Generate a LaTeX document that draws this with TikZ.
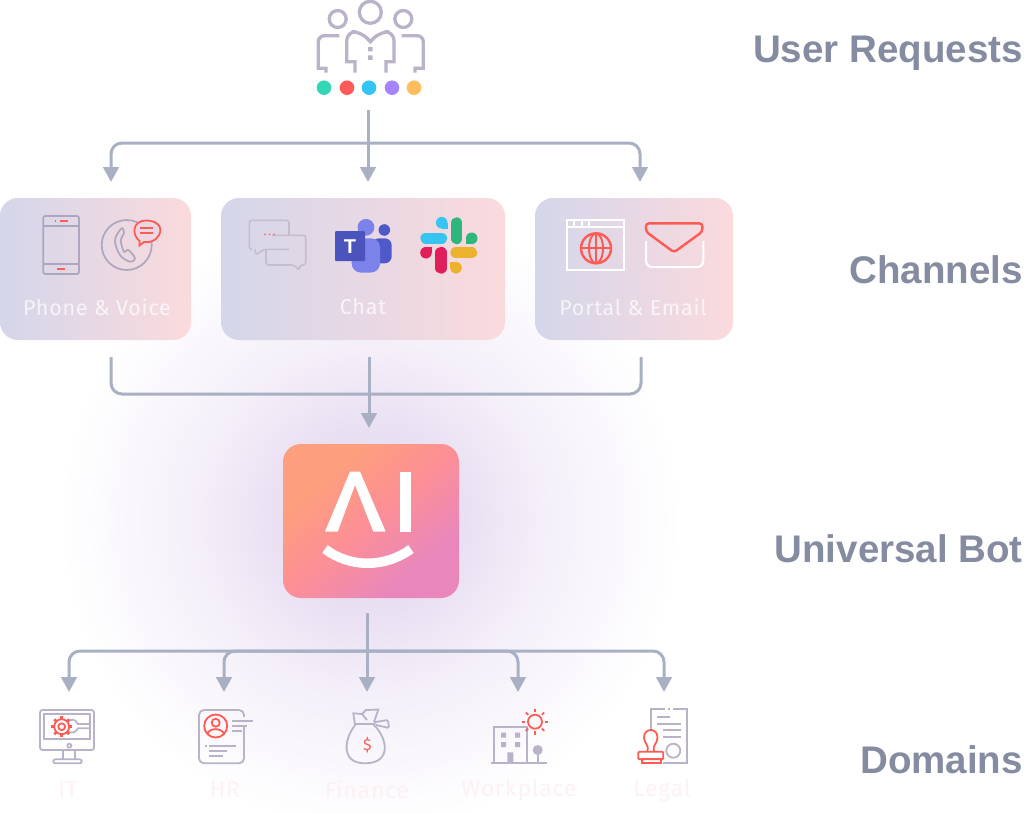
\documentclass[tikz,border=0pt]{standalone}
\usepackage{fontspec}
\setmainfont{Fira Sans}
\newfontfamily\cardfont[LetterSpace=3.5]{Fira Sans}
\newfontfamily\headfont{Liberation Sans}
\usepackage{tikz}
\usetikzlibrary{calc,positioning,arrows.meta}

\definecolor{linegray}{HTML}{A9B0C4}
\definecolor{headgray}{HTML}{858CA1}
\definecolor{icongray}{HTML}{B9B2C8}
\definecolor{cardgray}{HTML}{ACA7C0}
\definecolor{chatgray}{HTML}{C6BDCC}
\definecolor{iconred}{HTML}{FF5B52}
\definecolor{cardleft}{HTML}{D4D6EA}
\definecolor{cardright}{HTML}{FBDADD}
\definecolor{domtext}{HTML}{FDF1F4}
\definecolor{glowA}{HTML}{E8DFF2}
\definecolor{glowB}{HTML}{F4EFF9}
\definecolor{botA}{HTML}{FD9F7C}
\definecolor{botB}{HTML}{FC8F96}
\definecolor{botC}{HTML}{E987BC}
\definecolor{teamsA}{HTML}{4B53BC}
\definecolor{teamsB}{HTML}{7B83EB}
\definecolor{teamsC}{HTML}{5059C9}
\definecolor{slackA}{HTML}{36C5F0}
\definecolor{slackB}{HTML}{2EB67D}
\definecolor{slackC}{HTML}{E01E5A}
\definecolor{slackD}{HTML}{ECB22E}

\pgfdeclareradialshading{botglow}{\pgfpoint{0bp}{0bp}}{%
    color(0bp)=(glowA); color(7bp)=(glowA); color(14bp)=(glowB); color(25bp)=(white); color(50bp)=(white)}
\pgfdeclarehorizontalshading{botfill}{100bp}{%
    color(0bp)=(botA); color(30bp)=(botA); color(50bp)=(botB); color(70bp)=(botC); color(100bp)=(botC)}

\tikzset{
    >={Stealth[length=15pt,width=15.5pt,inset=0pt]},
    conn/.style={draw=linegray, line width=3pt, rounded corners=11pt},
    card/.style={
        rectangle,
        rounded corners=18pt,
        left color=cardleft,
        right color=cardright,
        minimum height=142pt,
        inner sep=0pt
    },
    cardlabel/.style={font=\fontsize{21.5}{24}\cardfont, text=white, opacity=.72},
    heading/.style={font=\fontsize{38.5}{42}\headfont\bfseries, text=headgray, anchor=base east, inner sep=0pt},
    domlabel/.style={font=\fontsize{23}{26}\cardfont, text=domtext},
    people/.style={draw=icongray, line width=3.3pt},
    dot/.style={circle, minimum size=14.6pt, inner sep=0pt},
    cardicon/.style={draw=cardgray, line width=1.7pt},
    chaticon/.style={draw=chatgray, line width=1.6pt, rounded corners=2.5pt},
    domicon/.style={draw=icongray, line width=1.8pt},
    redicon/.style={draw=iconred, line width=1.8pt},
    whiteicon/.style={draw=white, line width=2pt},
    pill/.style={line width=11.4pt, line cap=round}
}

\begin{document}
\begin{tikzpicture}[x=1pt,y=-1pt]
    \useasboundingbox (0,0) rectangle (1024,812);

    % halo round the bot
    \shade[shading=botglow] (370,520) circle[radius=310];

    % headings on the right
    \node[heading] (head users) at (1023,62.7) {User Requests};
    \node[heading] (head channels) at (1023,283) {Channels};
    \node[heading] (head bot) at (1023,562) {Universal Bot};
    \node[heading] (head domains) at (1023,773) {Domains};

    % users
    \draw[people] (370.3,12.3) circle[radius=11];
    \draw[people] (337.7,19) circle[radius=8.5];
    \draw[people] (403.3,19) circle[radius=8.5];
    \draw[people] (355,72.7) -- (355,61.7) -- (346.7,61.7) -- (346.7,50) [rounded corners=9pt] -- (346.7,31.7) -- (361,31.7) [sharp corners] -- (370.3,41.7) [rounded corners=9pt] -- (380,31.7) -- (394,31.7) -- (394,50) [sharp corners] -- (394,61.7) -- (386,61.7) -- (386,72.7);
    \draw[people] [rounded corners=6pt] (339.3,35.7) -- (318.3,35.7) -- (318.3,50) [sharp corners] -- (318.3,68.3) -- (326,68.3) -- (326,72.7);
    \draw[people] [rounded corners=6pt] (401.7,35.7) -- (423.3,35.7) -- (423.3,50) [sharp corners] -- (423.3,68.3) -- (415,68.3) -- (415,72.7);
    \fill[icongray] (368,47) rectangle (372.6,51.4) (368,55.4) rectangle (372.6,59.8);
    \node[dot, fill={rgb,255:red,51;green,214;blue,181}] (dot a) at (324,87.7) {};
    \node[dot, fill={rgb,255:red,255;green,90;blue,90}] (dot b) at (347,87.7) {};
    \node[dot, fill={rgb,255:red,51;green,197;blue,245}] (dot c) at (369,87.7) {};
    \node[dot, fill={rgb,255:red,165;green,133;blue,255}] (dot d) at (392,87.7) {};
    \node[dot, fill={rgb,255:red,255;green,189;blue,95}] (dot e) at (414,87.7) {};

    % channel cards
    \node[card, minimum width=191pt] (phone) at (95.5,269) {};
    \node[card, minimum width=284pt] (chat) at (363,269) {};
    \node[card, minimum width=198pt] (portal) at (634,269) {};
    \node[cardlabel] (phone label) at (97,307) {Phone \& Voice};
    \node[cardlabel] (chat label) at (363,307) {Chat};
    \node[cardlabel] (portal label) at (633,307) {Portal \& Email};

    % phone
    \draw[cardicon, rounded corners=2pt] (43.3,216) rectangle (79,274);
    \draw[cardicon] (43.3,226) -- (79,226) (43.3,264) -- (79,264);
    \draw[redicon] (60,221.3) -- (68,221.3) (57,269) -- (65,269) (54.7,221.3) -- (56,221.3);
    \draw[cardicon] (126.7,245) circle[radius=25];
    \draw[cardicon] plot[smooth cycle, tension=.6] coordinates {(121.7,228.3) (115,240) (120,255) (130,261.7) (135,258.3) (128.3,250) (124,251.7) (120.7,240) (124,233.3)};
    \draw[redicon, fill=cardleft!45!cardright] (139.5,241) .. controls (131,234) and (133,220.5) .. (146,220.5) .. controls (158,220.5) and (163,228) .. (159,235) .. controls (156,241) and (149,243) .. (144,242) -- (139.5,245.5) -- cycle;
    \draw[redicon] (140,228.3) -- (152.7,228.3) (140,233.3) -- (152.7,233.3);

    % chat bubbles
    \draw[chaticon] (252,249.3) -- (249.3,249.3) -- (249.3,220.3) -- (289,220.3) -- (289,235.3);
    \draw[chaticon] (289,249.3) -- (264,249.3) -- (256,255) -- (255,249.3);
    \draw[chaticon] (266,249.3) -- (266,265) -- (294,265) -- (299.3,270.3) -- (300,265) -- (305.7,265) -- (305.7,235.3) -- (272,235.3);
    \fill[iconred!80] (264,233.6) rectangle (266,235.2) (268.5,233.6) rectangle (270.5,235.2) (273,233.6) rectangle (275,235.2);

    % teams
    \fill[teamsC] (384.3,230) circle[radius=5.8];
    \fill[teamsC, rounded corners=7pt] (372,238.3) -- (391.7,238.3) -- (391.7,263.3) -- (372,263.3) -- cycle;
    \fill[teamsB] (366,227.3) circle[radius=8.4];
    \fill[teamsB, rounded corners=9pt] (351.7,238.3) -- (380,238.3) -- (380,272.5) -- (351.7,272.5) -- cycle;
    \node[fill=teamsA, minimum size=30pt, inner sep=0pt, rounded corners=1pt, text=white, font=\fontsize{20}{20}\headfont\bfseries] (teams) at (350,246.2) {T};

    % slack
    \draw[slackA, pill] (426,238.3) -- (441.5,238.3);
    \fill[slackA] (441.7,222.7) circle[radius=5.8];
    \fill[slackA] (441.7,222.7) rectangle (447.5,228.5);
    \draw[slackB, pill] (456.7,223) -- (456.7,238.5);
    \fill[slackB] (471.7,238.3) circle[radius=5.8];
    \fill[slackB] (465.9,238.3) rectangle (471.7,244.1);
    \draw[slackC, pill] (441,252.5) -- (441,268);
    \fill[slackC] (426,252.7) circle[radius=5.8];
    \fill[slackC] (426,246.9) rectangle (431.8,252.7);
    \draw[slackD, pill] (456,252.7) -- (471.5,252.7);
    \fill[slackD] (456,267.7) circle[radius=5.8];
    \fill[slackD] (450.2,261.9) rectangle (456,267.7);

    % browser and envelope
    \draw[whiteicon] (567.3,220) rectangle (624.3,270);
    \draw[whiteicon] (567.3,227.3) -- (624.3,227.3) (574.3,220) -- (574.3,227.3) (581.7,220) -- (581.7,227.3) (589,220) -- (589,227.3);
    \draw[redicon, line width=2.4pt] (596,248.3) circle[radius=15];
    \draw[redicon, line width=2pt] (596,248.3) ellipse[x radius=7, y radius=15];
    \draw[redicon, line width=2pt] (581,248.3) -- (611,248.3) (596,233.3) -- (596,263.3);
    \draw[redicon, line width=2.4pt, rounded corners=3pt] (646,223.3) -- (702.3,223.3) -- (702.3,231.7) -- (674,252.3) -- (646,231.7) -- cycle;
    \draw[whiteicon, rounded corners=6pt] (646,241) -- (646,267) -- (703.3,267) -- (703.3,241);

    % bot
    \node[rectangle, rounded corners=18pt, minimum width=176pt, minimum height=154pt, inner sep=0pt,
          shading=botfill, shading angle=-50] (bot) at (371,521) {};
    \fill[white] (325,531.7) -- (350,471.7) -- (360,471.7) -- (385.7,531.7) -- (373.3,531.7) -- (355,485) -- (337.7,531.7) -- cycle;
    \fill[white] (400.3,471.7) rectangle (411,531.7);
    \draw[white, line width=9.5pt] (325,549) .. controls (350,568) and (385,568) .. (411,549);

    % domain icons
    % IT
    \draw[domicon, rounded corners=2.5pt] (40,710) rectangle (94,750);
    \draw[domicon] (44,714) rectangle (90,739.3);
    \draw[domicon] (69.3,745.7) circle[radius=2];
    \draw[domicon] (62.7,750) -- (62.7,759.3) (75,750) -- (75,759.3);
    \draw[domicon, rounded corners=2pt] (53.3,759.3) rectangle (81.7,763.3);
    \draw[domicon] (90,724) -- (78,724) .. controls (75,718) and (70,719) .. (68,722) (90,728.3) -- (78,728.3) .. controls (75,734) and (70,733) .. (68,731);
    \foreach \a in {0,45,...,315}
        \draw[redicon, line width=2.6pt] (61.7,726.7) ++(\a:7.5) -- ++(\a:3);
    \draw[redicon] (61.7,726.7) circle[radius=7.5];
    \draw[redicon] (61.7,726.7) circle[radius=3.4];

    % HR
    \draw[domicon, rounded corners=5pt] (244,725) -- (244,763.3) -- (199,763.3) -- (199,710) -- (244,710) -- (244,717);
    \draw[redicon] (215.7,726) circle[radius=11.5];
    \draw[redicon] (215.7,722.7) circle[radius=4];
    \draw[redicon] (207.5,734) .. controls (209,727.5) and (222,727.5) .. (224,734);
    \draw[domicon] (232.3,720.7) -- (253.3,720.7) (232.3,725.7) -- (246.7,725.7) (232.3,730.7) -- (241.7,730.7);
    \draw[domicon] (205,745.7) -- (206.5,745.7) (209.3,745.7) -- (236,745.7) (209.3,750.7) -- (226.7,750.7) (209.3,756) -- (222.7,756);

    % Finance
    \draw[domicon] (356,724) .. controls (344,738) and (340,763.3) .. (365,763.3) .. controls (392,763.3) and (388,738) .. (373,724);
    \draw[domicon] (354,724) -- (374,724) -- (376,722) (355,725) -- (353.3,713.3) -- (362,714) -- (367,720);
    \draw[domicon] (362,714) -- (366,710) -- (378.3,709.5) -- (374,722);
    \draw[domicon, rounded corners=1.5pt] (375,722) -- (388,720) -- (389,728) -- (376,725);
    \node[text=iconred, font=\fontsize{16}{16}\selectfont, inner sep=0pt] (finance sign) at (367.3,745) {\$};

    % Workplace
    \draw[domicon] (494.3,763.3) -- (494.3,727.3) -- (526.7,727.3) -- (526.7,763.3);
    \draw[domicon] (491,763.3) -- (546.7,763.3);
    \fill[icongray] (501,732.5) rectangle (506,737.5) (515,732.5) rectangle (520,737.5) (501,742) rectangle (506,747) (515,742) rectangle (520,747) (507.3,752.3) rectangle (513.3,763.3);
    \fill[icongray] (537.7,750) circle[radius=5];
    \draw[domicon] (537.7,750) -- (537.7,763.3);
    \draw[redicon] (535,721.7) circle[radius=7];
    \foreach \a in {0,45,...,315}
        \draw[redicon] (535,721.7) ++(\a:9.7) -- ++(\a:3.3);

    % Legal
    \draw[domicon] (650.7,730) -- (650.7,709.3) -- (665,709.3) (668,709.3) -- (670,709.3) (673,709.3) -- (686.7,709.3) -- (686.7,763.3) -- (663.3,763.3);
    \draw[domicon] (656.7,716.7) -- (670,716.7) (656.7,724) -- (680.7,724) (663.3,730) -- (680.7,730) (663.3,736.7) -- (680.7,736.7);
    \draw[domicon] (673.3,750.7) circle[radius=7];
    \draw[redicon] (647,751.7) .. controls (650,745) and (644,744) .. (644,737.5) .. controls (644,727.5) and (657.5,727.5) .. (657.5,737.5) .. controls (657.5,744) and (651.5,745) .. (654.5,751.7);
    \draw[redicon, rounded corners=1pt] (638.3,751.7) rectangle (663.3,759.3);
    \draw[redicon] (642.3,759.3) rectangle (660.7,763.3);

    % domain names
    \node[domlabel] (it) at (68,790) {IT};
    \node[domlabel] (hr) at (225,790) {HR};
    \node[domlabel] (finance) at (367,790) {Finance};
    \node[domlabel] (workplace) at (519,790) {Workplace};
    \node[domlabel] (legal) at (662,790) {Legal};

    % ends of the connectors
    \coordinate (users out) at (368,110);
    \coordinate (users bus) at (368,143);
    \coordinate (phone in) at (111,182);
    \coordinate (chat in) at (368,182);
    \coordinate (portal in) at (640,182);
    \coordinate (phone out) at (111,357);
    \coordinate (chat out) at (369,357);
    \coordinate (portal out) at (641,357);
    \coordinate (channel bus) at (641,394);
    \coordinate (bot in) at (369,428);
    \coordinate (bot out) at (367,613);
    \coordinate (bot bus) at (367,651);
    \coordinate (it in) at (69,692);
    \coordinate (hr in) at (224,692);
    \coordinate (finance in) at (367,692);
    \coordinate (workplace in) at (518,692);
    \coordinate (legal in) at (664,692);

    % connectors
    \draw[conn, ->] (users out) -- (chat in);
    \draw[conn, ->] (users bus) -| (phone in);
    \draw[conn, ->] (users bus) -| (portal in);
    \draw[conn] (phone out) |- (channel bus) -- (portal out);
    \draw[conn, ->] (chat out) -- (bot in);
    \draw[conn, ->] (bot out) -- (finance in);
    \draw[conn, ->] (bot bus) -| (it in);
    \draw[conn, ->] (bot bus) -| (hr in);
    \draw[conn, ->] (bot bus) -| (workplace in);
    \draw[conn, ->] (bot bus) -| (legal in);
\end{tikzpicture}
\end{document}
